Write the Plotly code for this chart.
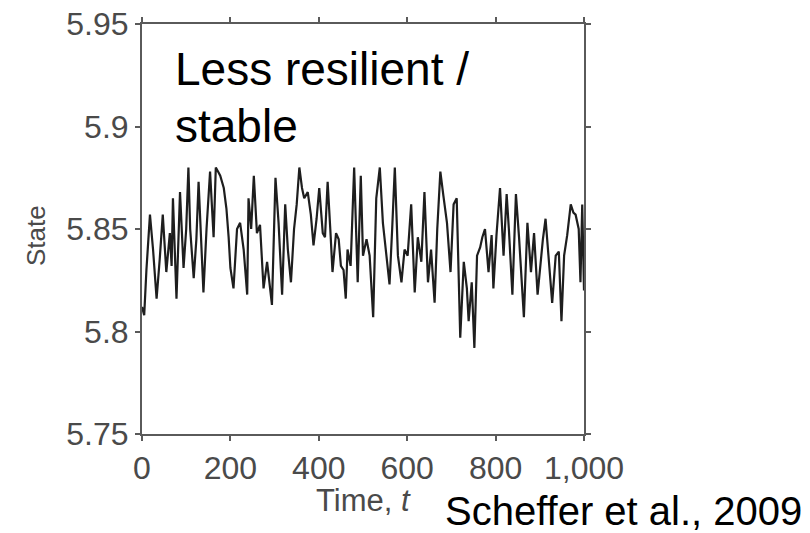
import plotly.graph_objects as go

time_t = [0, 5, 10, 18, 25, 33, 40, 47, 55, 63, 67, 70, 78, 86, 94, 100, 105, 109, 117, 123,
          128, 134, 139, 146, 154, 162, 167, 172, 177, 185, 191, 196, 200, 207, 215, 222, 230,
          238, 241, 247, 253, 260, 267, 275, 283, 294, 302, 309, 317, 324, 330, 337, 344, 350,
          356, 362, 367, 375, 382, 388, 395, 401, 409, 414, 420, 426, 431, 439, 445, 450, 456,
          461, 465, 472, 480, 488, 495, 500, 508, 515, 523, 530, 538, 545, 552, 560, 566, 572,
          579, 587, 594, 601, 609, 617, 624, 632, 639, 647, 654, 662, 668, 675, 682, 690, 698,
          705, 712, 716, 720, 728, 735, 739, 746, 752, 758, 765, 770, 776, 784, 791, 795, 802,
          810, 818, 825, 830, 838, 846, 853, 864, 872, 880, 887, 895, 902, 907, 913, 921, 928,
          936, 943, 949, 955, 962, 970, 976, 981, 988, 992, 996, 1000]
state = [5.812, 5.808, 5.830, 5.857, 5.840, 5.816, 5.835, 5.857, 5.829, 5.848, 5.832, 5.865,
         5.816, 5.868, 5.831, 5.850, 5.880, 5.850, 5.826, 5.845, 5.873, 5.840, 5.819, 5.850,
         5.878, 5.846, 5.880, 5.878, 5.876, 5.870, 5.860, 5.846, 5.831, 5.821, 5.850, 5.853,
         5.840, 5.818, 5.865, 5.850, 5.876, 5.848, 5.852, 5.821, 5.834, 5.813, 5.875, 5.853,
         5.818, 5.862, 5.840, 5.824, 5.850, 5.862, 5.880, 5.870, 5.865, 5.868, 5.857, 5.842,
         5.855, 5.870, 5.848, 5.846, 5.873, 5.850, 5.829, 5.848, 5.845, 5.832, 5.830, 5.816,
         5.840, 5.832, 5.880, 5.824, 5.876, 5.837, 5.845, 5.837, 5.807, 5.865, 5.880, 5.853,
         5.840, 5.823, 5.850, 5.880, 5.837, 5.824, 5.840, 5.837, 5.862, 5.819, 5.846, 5.834,
         5.868, 5.824, 5.840, 5.814, 5.850, 5.878, 5.866, 5.853, 5.829, 5.862, 5.865, 5.828,
         5.797, 5.834, 5.821, 5.805, 5.824, 5.792, 5.837, 5.841, 5.846, 5.850, 5.829, 5.847,
         5.821, 5.847, 5.870, 5.837, 5.867, 5.850, 5.818, 5.867, 5.846, 5.807, 5.853, 5.829,
         5.848, 5.818, 5.834, 5.845, 5.855, 5.832, 5.814, 5.837, 5.839, 5.805, 5.837, 5.847,
         5.862, 5.858, 5.857, 5.850, 5.824, 5.862, 5.820]

x_ticks = [0, 200, 400, 600, 800, 1000]
x_tick_labels = ["0", "200", "400", "600", "800", "1,000"]
y_ticks = [5.75, 5.8, 5.85, 5.9, 5.95]
y_tick_labels = ["5.75", "5.8", "5.85", "5.9", "5.95"]

fig = go.Figure()
fig.add_trace(go.Scatter(x=time_t, y=state, mode="lines",
                         line=dict(color="#1e1e1e", width=2.2), showlegend=False))

axis_color = "#5a5a5a"
fig.update_layout(
    width=810, height=533,
    margin=dict(l=142, r=226, t=24, b=99),
    paper_bgcolor="white", plot_bgcolor="white",
    font=dict(family="Liberation Sans, Arial, sans-serif"),
    xaxis=dict(range=[0, 1000], tickvals=x_ticks, ticktext=x_tick_labels,
               automargin=False, ticklabeloverflow="allow",
               showgrid=False, zeroline=False, showline=True, linecolor=axis_color,
               linewidth=2, mirror="ticks", ticks="outside", ticklen=5,
               tickcolor=axis_color, tickwidth=1.5,
               tickfont=dict(size=32, color="#4a4a4a")),
    yaxis=dict(range=[5.75, 5.95], tickvals=y_ticks, ticktext=y_tick_labels,
               automargin=False, ticklabeloverflow="allow",
               showgrid=False, zeroline=False, showline=True, linecolor=axis_color,
               linewidth=2, mirror="ticks", ticks="outside", ticklen=5,
               tickcolor=axis_color, tickwidth=1.5,
               tickfont=dict(size=32, color="#4a4a4a")),
    annotations=[
        dict(text="Less resilient /", xref="paper", yref="paper",
             x=0.07, y=0.958, xanchor="left", yanchor="top", align="left",
             showarrow=False, font=dict(size=46, color="black")),
        dict(text="stable", xref="paper", yref="paper",
             x=0.07, y=0.82, xanchor="left", yanchor="top", align="left",
             showarrow=False, font=dict(size=46, color="black")),
        dict(text="Time, <i>t</i>", xref="paper", yref="paper",
             x=0.5, y=-0.161, xanchor="center", yanchor="middle",
             showarrow=False, font=dict(size=31, color="#4a4a4a")),
        dict(text="State", xref="paper", yref="paper", textangle=-90,
             x=-0.24, y=0.485, xanchor="center", yanchor="middle",
             showarrow=False, font=dict(size=26, color="#4a4a4a")),
        dict(text="Scheffer et al., 2009", xref="paper", yref="paper",
             x=0.68, y=-0.188, xanchor="left", yanchor="middle",
             showarrow=False, font=dict(size=40, color="black")),
    ],
)

fig.write_html("out.html", config={"displayModeBar": False},
               post_script="document.body.style.margin='0';document.body.style.overflow='hidden';")
